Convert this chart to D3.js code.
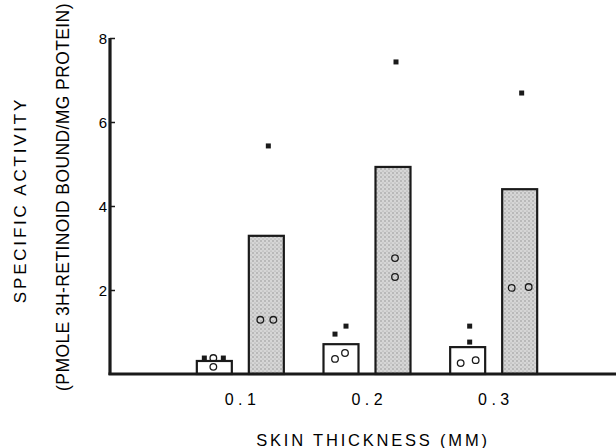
<!DOCTYPE html>
<html>
<head>
<meta charset="utf-8">
<script src="https://cdn.jsdelivr.net/npm/d3@7"></script>
<style>
  html, body { margin: 0; padding: 0; background: #fff; }
  svg { display: block; }
  text { font-family: "Liberation Sans", Arial, sans-serif; fill: #000; }
</style>
</head>
<body>
<svg id="chart" width="616" height="448"></svg>
<script>
// ---- data ----
const categories = ["0.1", "0.2", "0.3"];
const tickLabels = ["0 . 1", "0 . 2", "0 . 3"];
const yTicks = [2, 4, 6, 8];
const controlMeans = [0.31, 0.71, 0.64];   // open bars
const treatedMeans = [3.29, 4.93, 4.40];   // stippled bars
// individual points: [category index, group (0 open / 1 stippled), value]
const squarePoints = [
  [0, 0, 0.38], [0, 0, 0.38],
  [0, 1, 5.43],
  [1, 0, 0.95], [1, 0, 1.14],
  [1, 1, 7.43],
  [2, 0, 0.76], [2, 0, 1.14],
  [2, 1, 6.69]
];
const circlePoints = [
  [0, 0, 0.38], [0, 0, 0.17],
  [0, 1, 1.29], [0, 1, 1.29],
  [1, 0, 0.36], [1, 0, 0.50],
  [1, 1, 2.76], [1, 1, 2.31],
  [2, 0, 0.26], [2, 0, 0.33],
  [2, 1, 2.05], [2, 1, 2.07]
];
// horizontal scatter of points inside each bar (layout only)
const squareJitter = [-10, 9, 2, -6, 5, 3, 2, 2, 2];
const circleJitter = [-1, -1, -6, 7, -6, 4, 2, 2, -7, 8, -8, 9];

// ---- layout ----
const svg = d3.select("#chart");
const axisX = 110, baseY = 374, topY = 38;
const x = d3.scaleBand().domain(categories).range([177, 557]).padding(0);
const y = d3.scaleLinear().domain([0, 8]).range([baseY, topY]);
const barW = 35, barOff = 26;
const cx = (ci, g) => x(categories[ci]) + x.bandwidth() / 2 + (g === 0 ? -barOff : barOff);

// stipple pattern
const defs = svg.append("defs");
const pat = defs.append("pattern").attr("id", "stip").attr("patternUnits", "userSpaceOnUse")
  .attr("width", 4).attr("height", 4);
pat.append("rect").attr("width", 4).attr("height", 4).attr("fill", "#d6d6d6");
pat.append("circle").attr("cx", 1).attr("cy", 1).attr("r", 0.7).attr("fill", "#858585");
pat.append("circle").attr("cx", 3).attr("cy", 3).attr("r", 0.6).attr("fill", "#9c9c9c");

// bars
const barData = [];
categories.forEach((c, i) => {
  barData.push({ ci: i, g: 0, v: controlMeans[i] });
  barData.push({ ci: i, g: 1, v: treatedMeans[i] });
});
svg.append("g").selectAll("rect").data(barData).join("rect")
  .attr("x", d => cx(d.ci, d.g) - barW / 2)
  .attr("y", d => y(d.v))
  .attr("width", barW)
  .attr("height", d => y(0) - y(d.v))
  .attr("fill", d => d.g === 0 ? "#fff" : "url(#stip)")
  .attr("stroke", "#1a1a1a")
  .attr("stroke-width", 2.2);

// points
svg.append("g").selectAll("rect").data(squarePoints).join("rect")
  .attr("x", (d, i) => cx(d[0], d[1]) + squareJitter[i] - 2.5)
  .attr("y", d => y(d[2]) - 2.5)
  .attr("width", 5).attr("height", 5)
  .attr("fill", "#1a1a1a");
svg.append("g").selectAll("circle").data(circlePoints).join("circle")
  .attr("cx", (d, i) => cx(d[0], d[1]) + circleJitter[i])
  .attr("cy", d => y(d[2]))
  .attr("r", 3.3)
  .attr("fill", "none")
  .attr("stroke", "#1a1a1a")
  .attr("stroke-width", 1.3);

// y axis
const yAxis = d3.axisRight(y).tickValues(yTicks).tickSize(5).tickFormat("");
const yg = svg.append("g").attr("transform", `translate(${axisX},0)`).call(yAxis);
yg.select(".domain").remove();
yg.selectAll(".tick line").attr("stroke", "#1a1a1a").attr("stroke-width", 1.5);
svg.append("line").attr("x1", axisX).attr("x2", axisX).attr("y1", topY).attr("y2", baseY + 1)
  .attr("stroke", "#1a1a1a").attr("stroke-width", 3.2);
yg.selectAll(".tick").append("text")
  .attr("x", -3).attr("dy", "0.36em")
  .attr("text-anchor", "end")
  .attr("font-size", 15)
  .text(d => d);

// x axis
const xAxis = d3.axisBottom(x).tickSize(0).tickFormat((d, i) => tickLabels[i]);
const xg = svg.append("g").attr("transform", `translate(0,${baseY})`).call(xAxis);
xg.select(".domain").remove();
xg.selectAll(".tick text").attr("y", 31).attr("dy", null).attr("font-size", 16)
  .attr("font-family", "Liberation Sans, Arial, sans-serif").attr("fill", "#000");
svg.append("line").attr("x1", axisX - 1.5).attr("x2", 616).attr("y1", baseY).attr("y2", baseY)
  .attr("stroke", "#1a1a1a").attr("stroke-width", 3.2);

// titles
svg.append("text").attr("x", 373).attr("y", 446).attr("text-anchor", "middle")
  .attr("font-size", 16.5).attr("letter-spacing", 2.8).text("SKIN THICKNESS (MM)");
svg.append("text").attr("transform", "translate(26,200) rotate(-90)").attr("text-anchor", "middle")
  .attr("font-size", 17).attr("letter-spacing", 2.8).text("SPECIFIC ACTIVITY");
svg.append("text").attr("transform", "translate(69,197) rotate(-90)").attr("text-anchor", "middle")
  .attr("font-size", 17.5).attr("letter-spacing", 0.4).text("(PMOLE 3H-RETINOID BOUND/MG PROTEIN)");
</script>
</body>
</html>
